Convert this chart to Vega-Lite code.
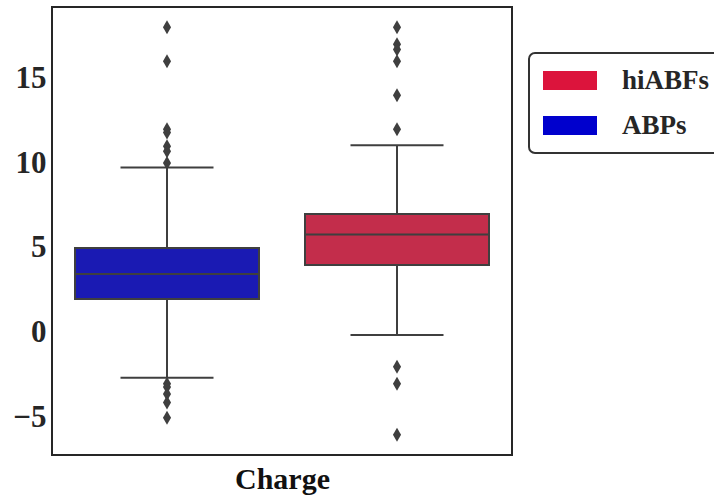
{
  "$schema": "https://vega.github.io/schema/vega-lite/v6.json",
  "width": 460,
  "height": 448,
  "autosize": {"type": "none"},
  "padding": {"left": 52, "top": 7, "right": 202, "bottom": 41},
  "background": "white",
  "config": {
    "font": "Liberation Serif",
    "view": {"stroke": "#262626", "strokeWidth": 2},
    "axis": {"grid": false, "domain": false, "ticks": false, "tickSize": 0, "labelFont": "Liberation Serif", "labelFontWeight": "bold", "labelColor": "#262626", "titleFont": "Liberation Serif", "titleFontWeight": "bold", "titleColor": "#111111"}
  },
  "datasets": {
    "summary": [
      {"group": "ABPs", "lower": -2.65, "q1": 2.0, "median": 3.47, "q3": 5.0, "upper": 9.74},
      {"group": "hiABFs", "lower": -0.13, "q1": 4.0, "median": 5.8, "q3": 7.0, "upper": 11.05}
    ],
    "outliers": [
      {"group": "ABPs", "value": 18.0},
      {"group": "ABPs", "value": 16.0},
      {"group": "ABPs", "value": 12.0},
      {"group": "ABPs", "value": 11.8},
      {"group": "ABPs", "value": 11.0},
      {"group": "ABPs", "value": 10.7},
      {"group": "ABPs", "value": 10.0},
      {"group": "ABPs", "value": -3.0},
      {"group": "ABPs", "value": -3.2},
      {"group": "ABPs", "value": -3.6},
      {"group": "ABPs", "value": -4.1},
      {"group": "ABPs", "value": -5.0},
      {"group": "hiABFs", "value": 18.0},
      {"group": "hiABFs", "value": 17.0},
      {"group": "hiABFs", "value": 16.7},
      {"group": "hiABFs", "value": 16.0},
      {"group": "hiABFs", "value": 14.0},
      {"group": "hiABFs", "value": 12.0},
      {"group": "hiABFs", "value": -2.0},
      {"group": "hiABFs", "value": -3.0},
      {"group": "hiABFs", "value": -6.0}
    ]
  },
  "encoding": {
    "x": {
      "field": "group", "type": "nominal",
      "scale": {"domain": ["ABPs", "hiABFs"], "paddingInner": 0, "paddingOuter": 0},
      "axis": {"labels": false, "title": "Charge", "titleFontSize": 30, "titlePadding": 9}
    }
  },
  "layer": [
    {
      "data": {"name": "summary"},
      "mark": {"type": "point", "filled": true, "size": 1},
      "encoding": {
        "y": {"field": "median", "type": "quantitative", "scale": {"domain": [-7.2, 19.2], "nice": false, "zero": false}, "axis": {"values": [-5, 0, 5, 10, 15], "title": null, "labelFontSize": 31, "labelPadding": 6}},
        "color": {
          "field": "group", "type": "nominal",
          "scale": {"domain": ["hiABFs", "ABPs"], "range": ["#DC143C", "#0000CD"]},
          "legend": {
            "title": null, "orient": "none", "legendX": 477, "legendY": 46,
            "symbolType": "M-1,-0.7H3V0.7H-1Z", "symbolSize": 729, "symbolOpacity": 1, "symbolStrokeWidth": 0,
            "labelFont": "Liberation Serif", "labelFontWeight": "bold", "labelFontSize": 27, "labelColor": "#262626",
            "labelOffset": 52, "rowPadding": 17, "padding": 14,
            "strokeColor": "#333333", "cornerRadius": 6, "fillColor": "white",
            "encode": {"legend": {"update": {"strokeWidth": {"value": 2}}}}
          }
        }
      }
    },
    {
      "data": {"name": "summary"},
      "mark": {"type": "rule", "color": "#3f3f3f", "strokeWidth": 2},
      "encoding": {
        "y": {"field": "lower", "type": "quantitative"},
        "y2": {"field": "q1"}
      }
    },
    {
      "data": {"name": "summary"},
      "mark": {"type": "rule", "color": "#3f3f3f", "strokeWidth": 2},
      "encoding": {
        "y": {"field": "q3", "type": "quantitative"},
        "y2": {"field": "upper"}
      }
    },
    {
      "data": {"name": "summary"},
      "mark": {"type": "tick", "color": "#3f3f3f", "opacity": 1, "thickness": 2, "size": 93},
      "encoding": {"y": {"field": "lower", "type": "quantitative"}}
    },
    {
      "data": {"name": "summary"},
      "mark": {"type": "tick", "color": "#3f3f3f", "opacity": 1, "thickness": 2, "size": 93},
      "encoding": {"y": {"field": "upper", "type": "quantitative"}}
    },
    {
      "data": {"name": "summary"},
      "transform": [{"filter": "datum.group === 'ABPs'"}],
      "mark": {"type": "bar", "fill": "#1A1AB3", "stroke": "#3f3f3f", "strokeWidth": 2, "width": {"band": 0.8}},
      "encoding": {
        "y": {"field": "q1", "type": "quantitative"},
        "y2": {"field": "q3"}
      }
    },
    {
      "data": {"name": "summary"},
      "transform": [{"filter": "datum.group === 'hiABFs'"}],
      "mark": {"type": "bar", "fill": "#C32D4B", "stroke": "#3f3f3f", "strokeWidth": 2, "width": {"band": 0.8}},
      "encoding": {
        "y": {"field": "q1", "type": "quantitative"},
        "y2": {"field": "q3"}
      }
    },
    {
      "data": {"name": "summary"},
      "mark": {"type": "tick", "color": "#3f3f3f", "opacity": 1, "thickness": 2, "size": 184},
      "encoding": {"y": {"field": "median", "type": "quantitative"}}
    },
    {
      "data": {"name": "outliers"},
      "mark": {"type": "point", "filled": true, "opacity": 1, "color": "#3f3f3f", "shape": "M0,-1L0.58,0L0,1L-0.58,0Z", "size": 196},
      "encoding": {"y": {"field": "value", "type": "quantitative"}}
    }
  ]
}
